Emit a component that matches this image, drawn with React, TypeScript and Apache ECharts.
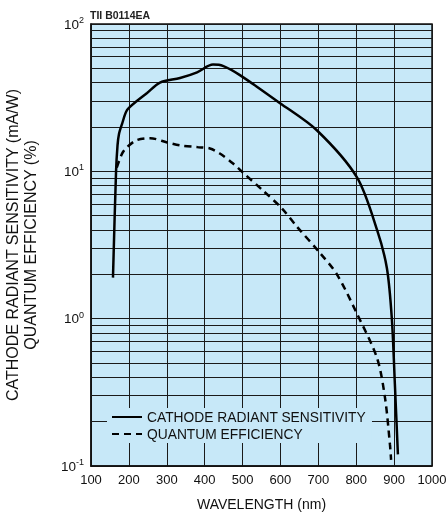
import React, { useEffect, useRef } from "react";
import * as echarts from "echarts";

const xTicks = [100, 200, 300, 400, 500, 600, 700, 800, 900, 1000];
const yDecadeLabels: Record<string, string> = {
  "0.1": "{b|10}{s|-1}",
  "1": "{b|10}{s|0}",
  "10": "{b|10}{s|1}",
  "100": "{b|10}{s|2}",
};
const minorGridValues = [
  0.2, 0.3, 0.4, 0.5, 0.6, 0.7, 0.8, 0.9,
  2, 3, 4, 5, 6, 7, 8, 9,
  20, 30, 40, 50, 60, 70, 80, 90,
];

const sensWavelength = [158, 166, 170, 174, 182, 195, 221, 248, 282, 335, 380, 422, 448, 493, 599, 696, 802, 855, 881, 894, 902, 910];
const sensValue = [1.9, 9.8, 15, 18, 21, 26, 30, 34, 40, 43, 47, 53, 52, 45, 29, 19, 9.1, 4.0, 2.2, 1.0, 0.36, 0.12];

const qeWavelength = [168, 182, 195, 221, 256, 301, 335, 380, 414, 440, 475, 501, 554, 604, 644, 704, 749, 802, 855, 876, 889, 892];
const qeValue = [10.6, 13.2, 14.6, 16.3, 16.8, 15.7, 15.0, 14.6, 14.3, 13.2, 11.3, 9.8, 7.4, 5.6, 4.2, 2.8, 2.0, 1.08, 0.54, 0.29, 0.14, 0.11];

const FONT = "'Liberation Sans', Arial, sans-serif";
const BG = "#c7e8f8";

export default function App() {
  const ref = useRef<HTMLDivElement>(null);
  useEffect(() => {
    if (!ref.current) return;
    const chart = echarts.init(ref.current, undefined, { renderer: "svg" });
    const sens = sensWavelength.map((w, i) => [w, sensValue[i]]);
    const qe = qeWavelength.map((w, i) => [w, qeValue[i]]);
    chart.setOption({
      animation: false,
      textStyle: { fontFamily: FONT },
      title: {
        text: "TII B0114EA",
        left: 90,
        top: 9,
        padding: 0,
        textStyle: { fontSize: 10.5, fontWeight: "bold", color: "#222", fontFamily: FONT },
      },
      grid: {
        left: 91,
        right: 15,
        top: 24,
        bottom: 47,
        containLabel: false,
        outerBoundsMode: "none",
        show: true,
        backgroundColor: BG,
        borderColor: "#111",
        borderWidth: 1.5,
      },
      legend: {
        orient: "vertical",
        left: 107,
        top: 408,
        backgroundColor: BG,
        padding: [2, 6, 2, 4],
        itemGap: 3,
        itemWidth: 30,
        itemHeight: 12,
        itemStyle: { opacity: 0 },
        textStyle: { fontSize: 13.8, color: "#111", fontFamily: FONT },
        data: ["CATHODE RADIANT SENSITIVITY", "QUANTUM EFFICIENCY"],
      },
      xAxis: {
        type: "value",
        min: 100,
        max: 1000,
        interval: 100,
        name: "WAVELENGTH (nm)",
        nameLocation: "middle",
        nameGap: 31,
        nameTextStyle: { fontSize: 14, color: "#111", fontFamily: FONT },
        axisLine: { show: true, lineStyle: { color: "#111", width: 1.5 } },
        axisTick: { show: false },
        axisLabel: {
          fontSize: 13,
          color: "#111",
          margin: 7,
          formatter: (v: number) => (xTicks.includes(v) ? String(v) : ""),
        },
        splitLine: { show: true, lineStyle: { color: "#1a1a1a", width: 1 } },
      },
      yAxis: {
        type: "log",
        logBase: 10,
        min: 0.1,
        max: 100,
        name: "CATHODE RADIANT SENSITIVITY (mA/W)\nQUANTUM EFFICIENCY (%)",
        nameLocation: "middle",
        nameRotate: 90,
        nameGap: 52,
        nameTextStyle: { fontSize: 16, color: "#111", lineHeight: 18, fontFamily: FONT },
        axisLine: { show: true, lineStyle: { color: "#111", width: 1.5 } },
        axisTick: { show: false },
        axisLabel: {
          margin: 7,
          color: "#111",
          formatter: (v: number) => yDecadeLabels[String(v)] || "",
          rich: {
            b: { fontSize: 13.5, color: "#111", fontFamily: FONT },
            s: { fontSize: 9, color: "#111", fontFamily: FONT, padding: [0, 0, 8, 0] },
          },
        },
        splitLine: { show: true, lineStyle: { color: "#1a1a1a", width: 1 } },
      },
      series: [
        {
          name: "CATHODE RADIANT SENSITIVITY",
          type: "line",
          data: sens,
          smooth: 0.3,
          showSymbol: false,
          symbol: "none",
          lineStyle: { color: "#000", width: 2.5, type: "solid" },
          itemStyle: { color: "#000" },
          z: 5,
          markLine: {
            silent: true,
            symbol: "none",
            label: { show: false },
            lineStyle: { color: "#1a1a1a", width: 1, type: "solid" },
            data: minorGridValues.map((v) => ({ yAxis: v })),
            z: 1,
          },
        },
        {
          name: "QUANTUM EFFICIENCY",
          type: "line",
          data: qe,
          smooth: 0.3,
          showSymbol: false,
          symbol: "none",
          lineStyle: { color: "#000", width: 2.5, type: [7, 5] },
          itemStyle: { color: "#000" },
          z: 5,
        },
      ],
    });
    return () => chart.dispose();
  }, []);
  return (
    <div
      ref={ref}
      style={{ position: "fixed", left: 0, top: 0, width: 447, height: 513 }}
    />
  );
}
